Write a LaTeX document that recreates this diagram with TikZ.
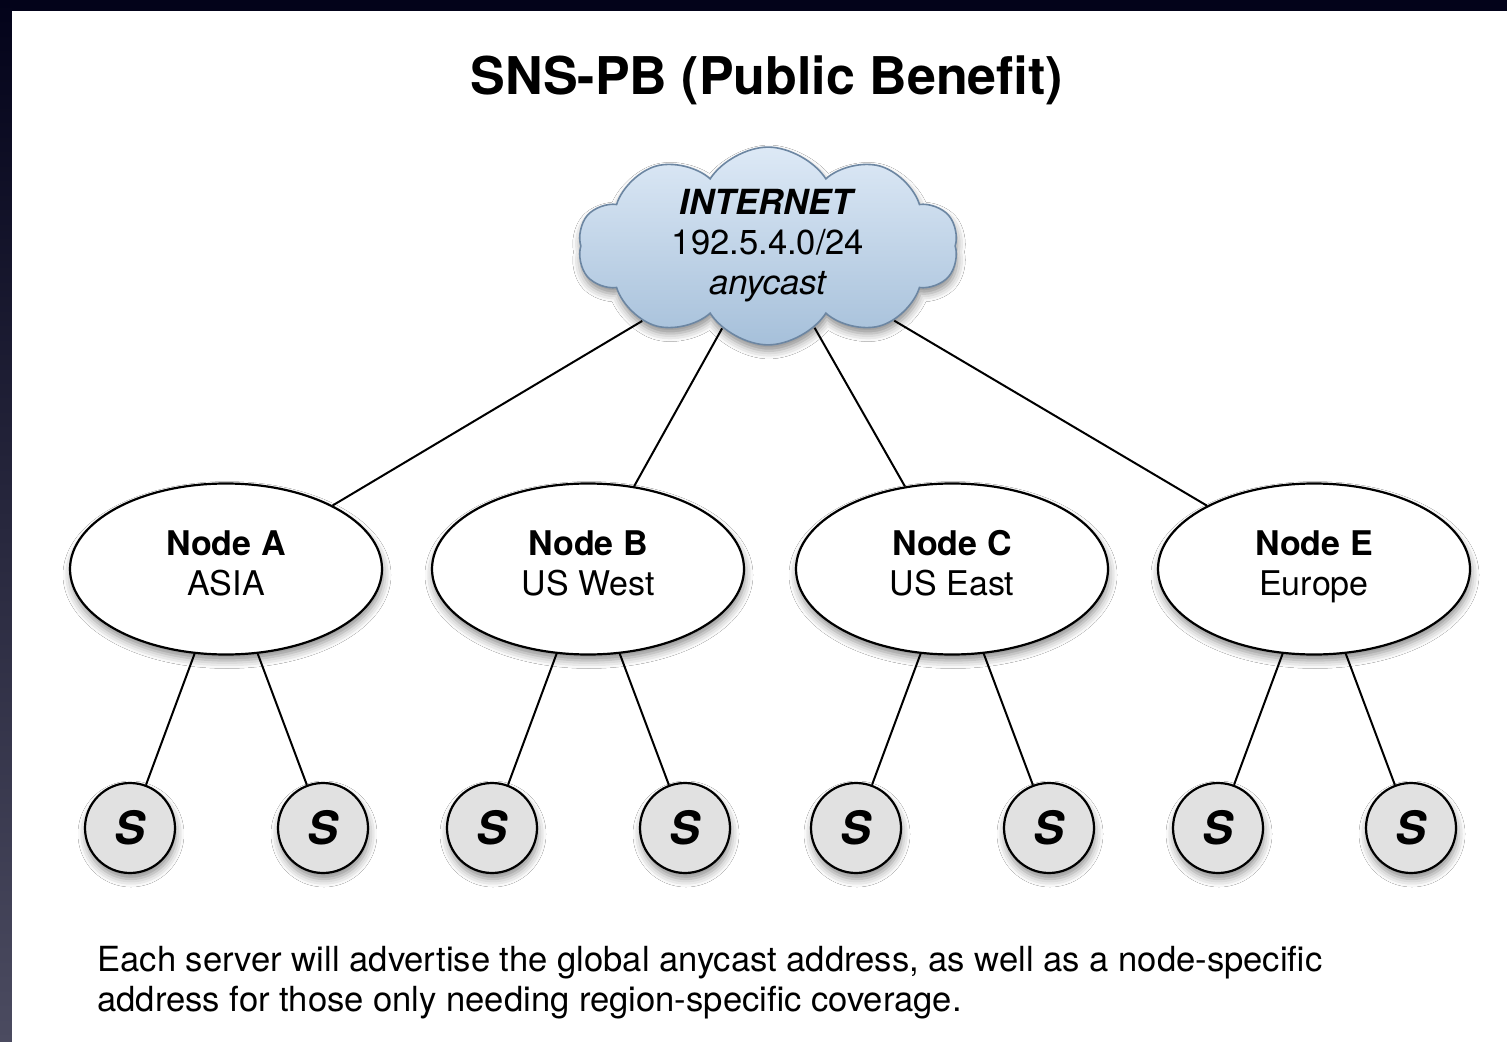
\documentclass[tikz,border=0pt]{standalone}
\usepackage{fontspec}
\setmainfont{TeX Gyre Heros}
\usepackage{xcolor}
\usepackage{tikz}
\usetikzlibrary{shapes.geometric,shapes.symbols,shadows.blur}

\definecolor{frametop}{HTML}{03031A}
\definecolor{framelow}{HTML}{4B4B60}
\definecolor{cloudtop}{HTML}{DDE9F6}
\definecolor{cloudlow}{HTML}{A6C0DA}
\definecolor{cloudline}{HTML}{6C86A2}
\definecolor{srvfill}{HTML}{E1E1E1}

\begin{document}
\begin{tikzpicture}[x=0.5pt,y=0.5pt]
      \tikzset{soft/.style={blur shadow={shadow xshift=0.5pt,shadow yshift=-3pt,shadow blur radius=4pt,shadow opacity=45}}}
      \tikzset{inet/.style={cloud,cloud puffs=10,cloud puff arc=115,cloud ignores aspect,minimum width=190pt,minimum height=98pt,inner sep=0pt,draw=cloudline,line width=0.8pt,top color=cloudtop,bottom color=cloudlow,align=center,font=\fontsize{17.3}{20}\selectfont,soft}}
      \tikzset{site/.style={ellipse,draw=black,line width=1.1pt,fill=white,minimum width=156pt,minimum height=85.5pt,inner sep=0pt,align=center,font=\fontsize{17}{20}\selectfont,execute at begin node=\rule{0pt}{16pt},execute at end node=\strut,soft}}
      \tikzset{srv/.style={circle,draw=black,line width=1.1pt,fill=srvfill,minimum size=45pt,inner sep=0pt,font=\fontsize{23}{26}\selectfont\bfseries\itshape,soft}}
      \tikzset{link/.style={draw=black,line width=1pt}}

      \fill[frametop] (0,0) rectangle (1507,-1042);
      \shade[top color=frametop,bottom color=framelow] (0,0) rectangle (12,-1042);
      \fill[white] (12,-11) rectangle (1507,-1042);
      \useasboundingbox (0,0) rectangle (1507,-1042);

      \node[anchor=base,font=\fontsize{26}{30}\selectfont\bfseries] (title) at (767,-95) {SNS-PB (Public Benefit)};

      \node[inet] (inet) at (768,-246) {\textbf{\textit{INTERNET}}\\192.5.4.0/24\\\textit{anycast}};

      \node[site] (nodeA) at (226,-569) {\textbf{Node A}\\ASIA};
      \node[site] (nodeB) at (588,-569) {\textbf{Node B}\\US West};
      \node[site] (nodeC) at (952,-569) {\textbf{Node C}\\US East};
      \node[site] (nodeE) at (1314,-569) {\textbf{Node E}\\Europe};

      \foreach \nd/\x in {nodeA/226,nodeB/588,nodeC/952,nodeE/1314} {
        \draw[link] (inet) -- (\nd);
        \node[srv] (\nd-l) at (\x-96,-828) {S};
        \node[srv] (\nd-r) at (\x+97,-828) {S};
        \draw[link] (\nd) -- (\nd-l);
        \draw[link] (\nd) -- (\nd-r);
      }

      \node[anchor=north west,align=left,inner sep=0pt,font=\fontsize{17.3}{20}\selectfont] (note) at (97,-946) {Each server will advertise the global anycast address, as well as a node-specific\\address for those only needing region-specific coverage.};
\end{tikzpicture}
\end{document}
